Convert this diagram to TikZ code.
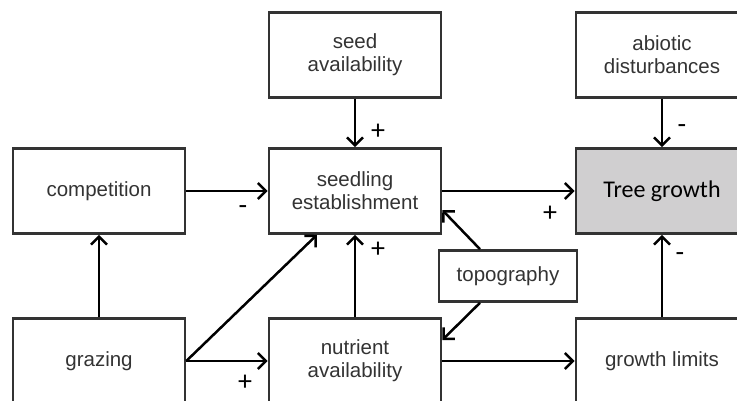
\documentclass[tikz,border=0pt]{standalone}
\usepackage{fontspec}
\setmainfont{Liberation Sans}
\newfontfamily\calibfont{Carlito}
\usetikzlibrary{arrows.meta}

\definecolor{boxline}{RGB}{51,51,51}
\definecolor{boxtext}{RGB}{51,51,51}
\definecolor{treefill}{RGB}{208,207,208}

\tikzset{
    factor/.style={draw=boxline, line width=2.6pt, minimum width=172pt, minimum height=85pt,
        align=center, text=boxtext, font=\fontsize{20.5}{23}\selectfont, inner sep=0pt},
    smallfactor/.style={factor, minimum width=138pt, minimum height=51pt},
    link/.style={line width=2.5pt, -{Straight Barb[length=8pt,width=16pt,line width=2.5pt]}},
    sign/.style={font=\calibfont\fontsize{28}{28}\selectfont, inner sep=0pt}
}

\begin{document}
\begin{tikzpicture}[x=1pt,y=-1pt]
    \clip (0,0) rectangle (737,400);
    \node[factor] (seed) at (355,55) {seed\\availability};
    \node[factor] (abiotic) at (662,55) {abiotic\\disturbances};
    \node[factor] (competition) at (99,191) {competition};
    \node[factor] (seedling) at (355,191) {seedling\\establishment};
    \node[factor, fill=treefill, text=black, font=\calibfont\fontsize{24}{26}\selectfont] (tree) at (662,191) {Tree growth};
    \node[smallfactor] (topo) at (508,276) {topography};
    \node[factor] (grazing) at (99,361) {grazing};
    \node[factor] (nutrient) at (355,361) {nutrient\\availability};
    \node[factor] (limits) at (662,361) {growth limits};

    \draw[link] (seed) -- (seedling);
    \draw[link] (abiotic) -- (tree);
    \draw[link] (competition) -- (seedling);
    \draw[link] (seedling) -- (tree);
    \draw[link] (grazing) -- (competition);
    \draw[link] (grazing.east) -- ([xshift=-38pt]seedling.south);
    \draw[link] (grazing) -- (nutrient);
    \draw[link] (nutrient) -- (seedling);
    \draw[link] ([xshift=-28pt]topo.north) -- ([yshift=-19pt]seedling.east);
    \draw[link] ([xshift=-28pt]topo.south) -- ([yshift=21pt]nutrient.east);
    \draw[link] (nutrient) -- (limits);
    \draw[link] (limits) -- (tree);

    \node[sign] (s1) at (378,132) {+};
    \node[sign] (s2) at (682,129) {-};
    \node[sign] (s3) at (243,210) {-};
    \node[sign] (s4) at (550,214) {+};
    \node[sign] (s5) at (378,250) {+};
    \node[sign] (s6) at (680,257) {-};
    \node[sign] (s7) at (245,383) {+};
\end{tikzpicture}
\end{document}
